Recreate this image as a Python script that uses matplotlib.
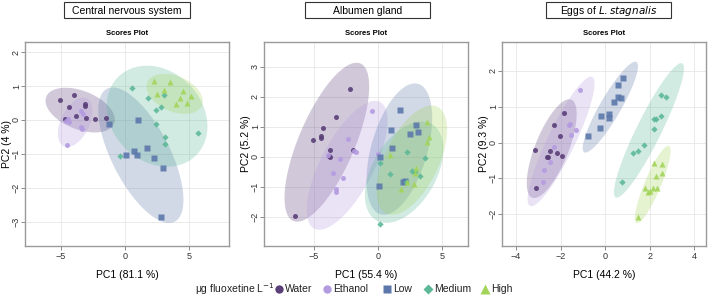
import numpy as np
import matplotlib
matplotlib.use("Agg")
import matplotlib.pyplot as plt
from matplotlib.patches import Polygon, Rectangle
from matplotlib.lines import Line2D

plt.rcParams['font.family'] = ['Liberation Sans', 'DejaVu Sans']

groups = ["Water", "Ethanol", "Low", "Medium", "High"]
colors = ["#5a3f78", "#b49be0", "#5c78ab", "#5cb897", "#a2d45a"]
markers = ["o", "o", "s", "D", "^"]
msizes = [3.6, 3.6, 3.8, 3.2, 5.0]

titles = ["Central nervous system", "Albumen gland", "Eggs of $\\it{L. stagnalis}$"]
xlabels = ["PC1 (81.1 %)", "PC1 (55.4 %)", "PC1 (44.2 %)"]
ylabels = ["PC2 (4 %)", "PC2 (5.2 %)", "PC2 (9.3 %)"]

# ---------------- Panel 1: Central nervous system ----------------
cns_water_x = [-5.08, -3.98, -4.40, -3.12, -3.09, -4.71, -3.85, -3.01, -2.33, -1.52]
cns_water_y = [0.60, 0.73, 0.39, 0.47, 0.41, 0.02, 0.11, 0.05, 0.02, 0.05]
cns_eth_x = [-4.48, -4.63, -3.46, -3.27, -3.43, -3.38, -4.50, -4.40]
cns_eth_y = [0.03, -0.02, 0.27, 0.17, -0.20, -0.27, -0.74, -0.05]
cns_low_x = [-1.23, 1.02, 1.73, 0.68, 0.08, 0.92, 2.23, 2.93, 2.83]
cns_low_y = [-0.13, 0.00, -0.83, -0.92, -1.04, -1.02, -1.13, -1.41, -2.87]
cns_med_x = [0.52, 1.78, 2.83, 2.43, 2.38, 3.09, 3.12, -0.39, 5.68, 3.06]
cns_med_y = [0.95, 0.65, 0.38, 0.29, -0.12, -0.49, -0.71, -1.07, -0.39, 0.73]
cns_high_x = [2.28, 3.53, 3.06, 2.51, 4.48, 4.29, 5.10, 3.95, 4.84]
cns_high_y = [1.15, 1.12, 0.89, 0.77, 0.84, 0.65, 0.70, 0.48, 0.50]

# ellipse parameters: centre x, centre y, x half-extent, y half-extent, correlation
cns_ell = [(-3.50, 0.29, 2.70, 0.66, -0.42),
           (-3.89, -0.07, 1.35, 0.73, 0.45),
           (1.23, -1.04, 3.32, 2.00, -0.66),
           (2.49, 0.11, 3.93, 1.49, -0.20),
           (3.86, 0.77, 2.19, 0.59, -0.36)]

# ---------------- Panel 2: Albumen gland ----------------
alb_water_x = [-2.16, -3.31, -4.27, -4.48, -4.45, -5.10, -3.78, -3.78, -1.95, -6.51, -3.85]
alb_water_y = [2.24, 1.31, 0.97, 0.70, 0.62, 0.54, 0.21, 0.00, 0.22, -1.99, 0.02]
alb_eth_x = [-0.49, -2.37, -1.74, -3.88, -2.97, -3.49, -2.73, -3.26, -3.26, 0.00, -1.90]
alb_eth_y = [1.51, 0.60, 0.14, 0.07, -0.07, -0.54, -0.70, -1.08, -1.18, 0.08, 0.20]
alb_low_x = [1.72, 0.96, 2.47, 2.94, 3.10, 1.09, 0.13, 0.10, 1.95, 2.08]
alb_low_y = [1.57, 0.90, 0.76, 1.06, 0.81, 0.30, 0.00, -0.98, -0.83, -0.81]
alb_med_x = [0.13, 0.89, 2.27, 2.63, 2.89, 3.26, 3.65, 2.14, 0.13]
alb_med_y = [-0.22, -0.58, 0.17, -0.48, -0.52, -0.63, -0.03, -0.83, -2.24]
alb_high_x = [3.83, 3.98, 3.80, 0.94, 2.92, 2.86, 1.74, 2.79, 2.21]
alb_high_y = [1.17, 0.67, 0.49, 0.06, -0.38, -0.56, -1.09, -0.92, -0.83]

alb_ell = [(-4.00, 0.48, 3.30, 2.65, 0.70),
           (-2.42, -0.29, 3.15, 2.15, 0.69),
           (1.65, 0.25, 2.56, 2.19, 0.47),
           (2.02, -0.52, 3.06, 1.69, 0.45),
           (2.62, -0.12, 2.75, 1.82, 0.56)]

# ---------------- Panel 3: Eggs of L. stagnalis ----------------
egg_water_x = [-3.17, -1.87, -2.32, -2.01, -2.48, -2.18, -2.63, -2.58, -1.93, -3.11]
egg_water_y = [-0.20, 0.82, 0.48, 0.19, -0.23, -0.28, -0.39, -0.40, -0.37, -1.26]
egg_eth_x = [-1.11, -1.59, -1.64, -1.30, -1.55, -2.29, -2.47, -2.74, -2.77]
egg_eth_y = [1.47, 0.51, 0.49, 0.36, 0.20, -0.12, -0.55, -0.76, -1.11]
egg_low_x = [0.80, 0.58, 0.57, 0.72, 0.41, -0.19, 0.15, 0.15, -0.22, -0.76]
egg_low_y = [1.80, 1.61, 1.27, 1.25, 1.12, 0.74, 0.79, 0.70, 0.42, 0.19]
egg_med_x = [2.50, 2.74, 2.20, 2.26, 2.50, 2.19, 1.75, 1.46, 1.26, 0.74]
egg_med_y = [1.34, 1.28, 0.67, 0.67, 0.74, 0.37, -0.07, -0.23, -0.30, -1.10]
egg_high_x = [2.18, 2.53, 2.26, 2.54, 1.80, 2.15, 2.34, 1.94, 2.03, 1.49]
egg_high_y = [-0.56, -0.61, -0.93, -0.84, -1.27, -1.28, -1.28, -1.38, -1.34, -2.07]

egg_ell = [(-2.40, -0.17, 1.12, 1.38, 0.70),
           (-1.98, 0.03, 1.50, 1.81, 0.89),
           (0.23, 0.99, 1.24, 1.27, 0.90),
           (1.96, 0.34, 1.57, 1.88, 0.92),
           (2.13, -1.17, 0.80, 1.08, 0.87)]

panels = [
    dict(pts=[(cns_water_x, cns_water_y), (cns_eth_x, cns_eth_y), (cns_low_x, cns_low_y),
              (cns_med_x, cns_med_y), (cns_high_x, cns_high_y)],
         ell=cns_ell, xlim=(-7.8, 8.1), ylim=(-3.72, 2.3),
         xticks=[-5, 0, 5], yticks=[-3, -2, -1, 0, 1, 2]),
    dict(pts=[(alb_water_x, alb_water_y), (alb_eth_x, alb_eth_y), (alb_low_x, alb_low_y),
              (alb_med_x, alb_med_y), (alb_high_x, alb_high_y)],
         ell=alb_ell, xlim=(-8.9, 7.0), ylim=(-2.98, 3.82),
         xticks=[-5, 0, 5], yticks=[-2, -1, 0, 1, 2, 3]),
    dict(pts=[(egg_water_x, egg_water_y), (egg_eth_x, egg_eth_y), (egg_low_x, egg_low_y),
              (egg_med_x, egg_med_y), (egg_high_x, egg_high_y)],
         ell=egg_ell, xlim=(-4.63, 4.52), ylim=(-2.89, 2.81),
         xticks=[-4, -2, 0, 2, 4], yticks=[-2, -1, 0, 1, 2]),
]

W, H = 708, 298
fig = plt.figure(figsize=(W / 100, H / 100), dpi=100)

ax_lefts = [25, 264, 502]
ax_w, ax_top, ax_bot = 204, 42, 246
box_x = [(64, 190), (305, 430), (546, 671)]

t = np.linspace(0, 2 * np.pi, 200)
for i, p in enumerate(panels):
    ax = fig.add_axes([ax_lefts[i] / W, 1 - ax_bot / H, ax_w / W, (ax_bot - ax_top) / H])
    ax.set_axisbelow(True)
    ax.grid(True, color="#e6e6e6", lw=0.6)
    for g in range(5):
        cx, cy, sx, sy, r = p["ell"][g]
        ex = cx + sx * np.cos(t)
        ey = cy + sy * (r * np.cos(t) + np.sqrt(1 - r * r) * np.sin(t))
        ax.add_patch(Polygon(np.column_stack([ex, ey]), closed=True,
                             facecolor=colors[g], edgecolor="none", alpha=0.28, zorder=1))
    for g in range(5):
        xs, ys = p["pts"][g]
        ax.plot(xs, ys, ls="none", marker=markers[g], ms=msizes[g],
                color=colors[g], mec="none", alpha=0.9, zorder=3)
    ax.set_xlim(*p["xlim"])
    ax.set_ylim(*p["ylim"])
    ax.set_xticks(p["xticks"])
    ax.set_yticks(p["yticks"])
    ax.tick_params(labelsize=6.5, length=3, width=0.6, color="#777777",
                   labelcolor="#333333", pad=1.5)
    ax.tick_params(axis="y", pad=0)
    for lab in ax.get_yticklabels():
        lab.set_rotation(90)
        lab.set_va("center")
    for s in ax.spines.values():
        s.set_color("#9a9a9a")
        s.set_linewidth(1.0)
    ax.set_xlabel(xlabels[i], fontsize=7.5)
    ax.xaxis.set_label_coords(0.5, -(270 - ax_bot) / (ax_bot - ax_top), transform=ax.transAxes)
    ax.set_ylabel(ylabels[i], fontsize=7.5, va="center")
    ax.yaxis.set_label_coords(-18 / ax_w, 0.5, transform=ax.transAxes)
    ax.set_title("Scores Plot", fontsize=5.5, fontweight="bold", pad=5)

    x0, x1 = box_x[i]
    fig.add_artist(Rectangle((x0 / W, 1 - 18 / H), (x1 - x0) / W, 16 / H,
                             transform=fig.transFigure, facecolor="white",
                             edgecolor="#333333", lw=0.8))
    fig.text((x0 + x1) / 2 / W, 1 - 10.5 / H, titles[i], ha="center", va="center", fontsize=7.5)

# legend row
leg_y = 1 - 289 / H
fig.text(195 / W, leg_y, "μg fluoxetine L$^{-1}$", ha="left", va="center", fontsize=7.5,
         color="#222222")
marker_px = [279, 327, 387, 428, 485]
leg_ms = [6.0, 6.0, 6.0, 5.6, 7.0]
for g in range(5):
    fig.add_artist(Line2D([marker_px[g] / W], [leg_y], transform=fig.transFigure, ls="none",
                          marker=markers[g], ms=leg_ms[g], color=colors[g], mec="none"))
    fig.text((marker_px[g] + 6) / W, leg_y, groups[g], ha="left", va="center", fontsize=7.5,
             color="#222222")

fig.savefig("out.png", dpi=100)
